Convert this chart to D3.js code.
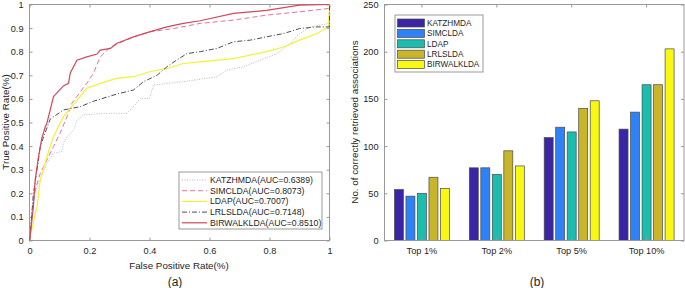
<!DOCTYPE html>
<html lang="en">
<head>
<meta charset="UTF-8" />
<title>ROC curves and top-k retrieved associations</title>
<script src="https://d3js.org/d3.v7.min.js"></script>
<style>
  body { margin: 0; background: #fff; }
  svg { display: block; font-family: "Liberation Sans", Arial, sans-serif; }
  .frame { fill: none; stroke: #999; stroke-width: 1; }
</style>
</head>
<body>
<svg id="fig" width="685" height="288"></svg>
<script>
// ---- panel (a): ROC curves, [fpr, tpr]
const rocNames = ["KATZHMDA(AUC=0.6389)", "SIMCLDA(AUC=0.8073)", "LDAP(AUC=0.7007)", "LRLSLDA(AUC=0.7148)", "BIRWALKLDA(AUC=0.8510)"];
const rocKatz = [[0,0],[0.002,0.017],[0.013,0.186],[0.036,0.257],[0.058,0.327],[0.08,0.37],[0.108,0.377],[0.113,0.412],[0.125,0.44],[0.147,0.468],[0.158,0.51],[0.18,0.532],[0.247,0.539],[0.325,0.539],[0.347,0.567],[0.369,0.602],[0.40,0.602],[0.413,0.659],[0.513,0.673],[0.625,0.694],[0.658,0.722],[0.713,0.736],[0.769,0.764],[0.825,0.792],[0.869,0.835],[0.90,0.877],[0.936,0.905],[1,0.92],[1,1]];
const rocSim = [[0,0],[0.002,0.017],[0.008,0.116],[0.019,0.214],[0.036,0.285],[0.058,0.341],[0.08,0.398],[0.102,0.455],[0.125,0.525],[0.141,0.581],[0.158,0.61],[0.191,0.666],[0.213,0.708],[0.236,0.778],[0.27,0.82],[0.347,0.863],[0.40,0.884],[0.48,0.898],[0.569,0.92],[0.68,0.934],[0.79,0.955],[0.90,0.969],[0.997,0.983],[1,1]];
const rocLdap = [[0,0],[0.002,0.017],[0.025,0.144],[0.036,0.257],[0.058,0.355],[0.08,0.44],[0.113,0.525],[0.158,0.594],[0.191,0.645],[0.236,0.666],[0.29,0.687],[0.347,0.694],[0.40,0.715],[0.458,0.729],[0.513,0.75],[0.569,0.757],[0.68,0.771],[0.79,0.80],[0.847,0.82],[0.90,0.849],[0.958,0.877],[0.997,0.905],[1,1]];
const rocLrls = [[0,0],[0.002,0.017],[0.013,0.20],[0.025,0.30],[0.036,0.398],[0.047,0.44],[0.069,0.514],[0.113,0.553],[0.169,0.567],[0.213,0.59],[0.29,0.62],[0.347,0.638],[0.38,0.673],[0.425,0.70],[0.458,0.736],[0.49,0.764],[0.525,0.792],[0.569,0.80],[0.625,0.814],[0.68,0.842],[0.736,0.849],[0.79,0.863],[0.847,0.877],[0.90,0.898],[0.958,0.905],[1,0.905],[1,1]];
const rocBirw = [[0,0],[0.002,0.017],[0.013,0.144],[0.019,0.257],[0.03,0.355],[0.041,0.433],[0.052,0.48],[0.058,0.497],[0.08,0.61],[0.113,0.655],[0.13,0.666],[0.136,0.71],[0.158,0.764],[0.191,0.778],[0.225,0.79],[0.236,0.807],[0.27,0.814],[0.29,0.835],[0.347,0.863],[0.40,0.884],[0.458,0.905],[0.513,0.92],[0.569,0.931],[0.68,0.962],[0.79,0.975],[0.90,0.997],[1,1]];
const rocYTicks = [0, 0.1, 0.2, 0.3, 0.4, 0.5, 0.6, 0.7, 0.8, 0.9, 1];
const rocXTicks = [0, 0.2, 0.4, 0.6, 0.8, 1];

// ---- panel (b): bar chart
const groups = ["Top 1%", "Top 2%", "Top 5%", "Top 10%"];
const methods = ["KATZHMDA", "SIMCLDA", "LDAP", "LRLSLDA", "BIRWALKLDA"];
const katzVals = [54, 77, 109, 118];
const simVals = [47, 77, 120, 136];
const ldapVals = [50, 70, 115, 165];
const lrlsVals = [67, 95, 140, 165];
const birwVals = [55, 79, 148, 203];
const barTicks = [0, 50, 100, 150, 200, 250];

const svg = d3.select("#fig");

// box with inward ticks on all four sides, matlab style
function boxAxes(g, x, y, xTicks, yTicks, xFmt) {
  const [x0, x1] = x.range(), [y0, y1] = y.range();
  const bx = d3.axisBottom(x).tickSizeInner(-3).tickSizeOuter(0).tickPadding(7);
  const tx = d3.axisTop(x).tickFormat("").tickSizeInner(-3).tickSizeOuter(0);
  if (xTicks) { bx.tickValues(xTicks).tickFormat(xFmt); tx.tickValues(xTicks); }
  const axes = [
    g.append("g").attr("transform", `translate(0,${y0})`).call(bx),
    g.append("g").attr("transform", `translate(0,${y1})`).call(tx),
    g.append("g").attr("transform", `translate(${x0},0)`)
      .call(d3.axisLeft(y).tickValues(yTicks).tickFormat(d3.format("")).tickSizeInner(-3).tickSizeOuter(0).tickPadding(6)),
    g.append("g").attr("transform", `translate(${x1},0)`)
      .call(d3.axisRight(y).tickValues(yTicks).tickFormat("").tickSizeInner(-3).tickSizeOuter(0))
  ];
  axes.forEach(a => {
    a.select(".domain").remove();
    a.selectAll(".tick line").attr("stroke", "#999");
    a.selectAll(".tick text").attr("font-size", 9.2).attr("fill", "#262626")
      .attr("font-family", "Liberation Sans, Arial, sans-serif");
  });
  g.append("rect").attr("class", "frame")
    .attr("x", x0).attr("y", y1).attr("width", x1 - x0).attr("height", y0 - y1);
}

// ================= (a) =================
const xA = d3.scaleLinear().domain([0, 1]).range([29.5, 329.5]);
const yA = d3.scaleLinear().domain([0, 1]).range([240.5, 4.5]);
const gA = svg.append("g");

const rocSeries = [
  { name: rocNames[0], pts: rocKatz, color: "#b4b4dc", dash: "1,1.5",   w: 1 },
  { name: rocNames[1], pts: rocSim,  color: "#e2739b", dash: "5,3",     w: 1 },
  { name: rocNames[2], pts: rocLdap, color: "#f2f233", dash: null,      w: 1.2 },
  { name: rocNames[3], pts: rocLrls, color: "#4c4c5c", dash: "5,2,1,2", w: 1 },
  { name: rocNames[4], pts: rocBirw, color: "#d2495a", dash: null,      w: 1.2 }
];

boxAxes(gA, xA, yA, rocXTicks, rocYTicks, d3.format(""));

const line = d3.line().x(d => xA(d[0])).y(d => yA(d[1]));
gA.append("g").selectAll("path").data(rocSeries).join("path")
  .attr("d", d => line(d.pts))
  .attr("fill", "none")
  .attr("stroke", d => d.color)
  .attr("stroke-width", d => d.w)
  .attr("stroke-dasharray", d => d.dash);

const legA = gA.append("g").attr("transform", "translate(179,172)");
legA.append("rect").attr("width", 143).attr("height", 57).attr("fill", "#fff").attr("stroke", "#999");
rocSeries.forEach((s, i) => {
  const yy = 8 + i * 10.7;
  legA.append("line").attr("x1", 3).attr("x2", 28).attr("y1", yy).attr("y2", yy)
    .attr("stroke", s.color).attr("stroke-width", s.w).attr("stroke-dasharray", s.dash);
  legA.append("text").attr("x", 31).attr("y", yy).attr("dy", "0.35em")
    .attr("font-size", 8.7).attr("fill", "#262626").text(s.name);
});

gA.append("text").attr("x", 179).attr("y", 266).attr("dy", "0.35em").attr("text-anchor", "middle")
  .attr("font-size", 9.8).attr("fill", "#262626").text("False Positive Rate(%)");
gA.append("text").attr("transform", "translate(6,122) rotate(-90)").attr("dy", "0.35em").attr("text-anchor", "middle")
  .attr("font-size", 9.8).attr("fill", "#262626").text("True Positive Rate(%)");
gA.append("text").attr("x", 175).attr("y", 282).attr("dy", "0.35em").attr("text-anchor", "middle")
  .attr("font-size", 12).attr("fill", "#262626").text("(a)");

// ================= (b) =================
const xB = d3.scaleBand().domain(groups).range([384.5, 684]).paddingInner(0.25).paddingOuter(0.125);
const yB = d3.scaleLinear().domain([0, 250]).range([240.5, 4.5]);
const xSub = d3.scaleBand().domain(methods).range([0, xB.bandwidth()]).paddingInner(0.22).paddingOuter(0.05);
const barColors = ["#3b24a6", "#2f82f6", "#1bbdae", "#c9b52a", "#f8f814"];
const barVals = [katzVals, simVals, ldapVals, lrlsVals, birwVals];
const gB = svg.append("g");

gB.append("g").selectAll("g").data(groups).join("g")
  .attr("transform", d => `translate(${xB(d)},0)`)
  .selectAll("rect").data((g, gi) => methods.map((m, mi) => ({ m, mi, v: barVals[mi][gi] }))).join("rect")
  .attr("x", d => xSub(d.m))
  .attr("width", xSub.bandwidth())
  .attr("y", d => yB(d.v))
  .attr("height", d => yB(0) - yB(d.v))
  .attr("fill", d => barColors[d.mi])
  .attr("stroke", "#4a4a4a").attr("stroke-width", 0.7);

boxAxes(gB, xB, yB, null, barTicks);

const legB = gB.append("g").attr("transform", "translate(395,15)");
legB.append("rect").attr("width", 88).attr("height", 57).attr("fill", "#fff").attr("stroke", "#999");
methods.forEach((m, i) => {
  const yy = 8 + i * 10.4;
  legB.append("rect").attr("x", 2.5).attr("y", yy - 4).attr("width", 27).attr("height", 8)
    .attr("fill", barColors[i]).attr("stroke", "#4a4a4a").attr("stroke-width", 0.7);
  legB.append("text").attr("x", 32).attr("y", yy).attr("dy", "0.35em")
    .attr("font-size", 8.2).attr("fill", "#262626").text(m);
});

gB.append("text").attr("transform", "translate(355,122) rotate(-90)").attr("dy", "0.35em").attr("text-anchor", "middle")
  .attr("font-size", 9.8).attr("fill", "#262626").text("No. of correctly retrieved associations");
gB.append("text").attr("x", 537).attr("y", 282).attr("dy", "0.35em").attr("text-anchor", "middle")
  .attr("font-size", 12).attr("fill", "#262626").text("(b)");
</script>
</body>
</html>
